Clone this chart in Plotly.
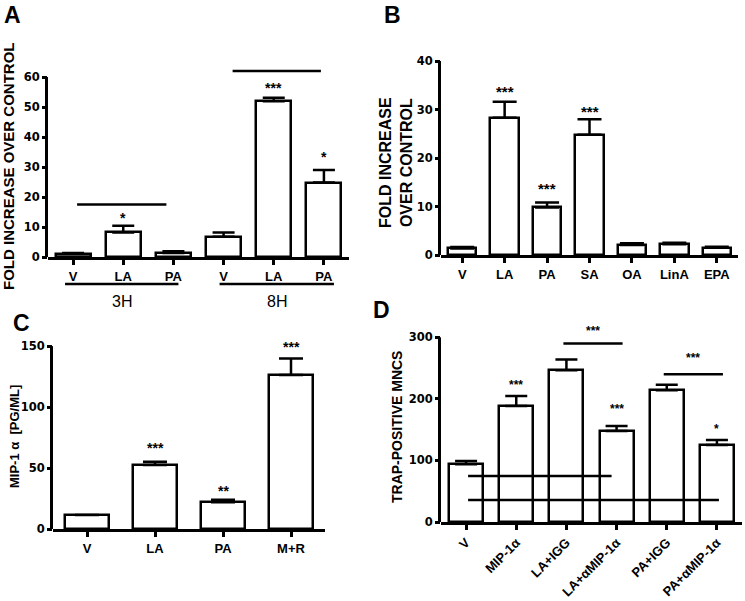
import plotly.graph_objects as go

W, H = 745, 601

# ---------------- data ----------------
# Panel A
a_labels = ["V", "LA", "PA", "V", "LA", "PA"]
a_vals = [1.1, 8.2, 1.3, 6.75, 51.9, 24.8]
a_errs = [0.2, 2.2, 0.6, 1.45, 1.2, 4.2]
a_fill = ["#8c8c8c", "white", "white", "white", "white", "white"]
a_stars = ["", "*", "", "", "***", "*"]
a_star_y = [0, 13.7, 0, 0, 57, 34]
a_ticks = [0, 10, 20, 30, 40, 50, 60]
a_groups = ["3H", "8H"]
a_group_span = [(-0.16, 2.1), (2.92, 5.2)]
a_sig = [(0.08, 1.86, 17.5), (3.18, 4.94, 62)]

# Panel B
b_labels = ["V", "LA", "PA", "SA", "OA", "LinA", "EPA"]
b_vals = [1.35, 28.3, 9.8, 24.8, 2.05, 2.2, 1.5]
b_errs = [0.3, 3.3, 1.0, 3.2, 0.35, 0.35, 0.2]
b_stars = ["", "***", "***", "***", "", "", ""]
b_star_y = [0, 34.1, 14.2, 30.0, 0, 0, 0]
b_ticks = [0, 10, 20, 30, 40]

# Panel C
c_labels = ["V", "LA", "PA", "M+R"]
c_vals = [11.5, 52.5, 21.9, 126.2]
c_errs = [0, 2.7, 2.1, 13.7]
c_stars = ["", "***", "**", "***"]
c_star_y = [0, 68, 32.7, 151]
c_ticks = [0, 50, 100, 150]

# Panel D
d_labels = ["V", "MIP-1α", "LA+IGG", "LA+αMIP-1α", "PA+IGG", "PA+αMIP-1α"]
d_vals = [94, 188.6, 246.5, 148, 214, 125]
d_errs = [5, 16.2, 17.3, 8, 9, 8]
d_stars = ["", "***", "", "***", "", "*"]
d_star_y = [0, 225, 0, 186, 0, 154]
d_ticks = [0, 100, 200, 300]
d_sig = [(1.94, 3.12, 290, "***", 313), (3.94, 5.12, 240, "***", 269)]
d_inner = [(0.04, 2.9, 74.6), (0.04, 5.04, 35.7)]

FONT = "Liberation Sans, Arial, sans-serif"
NUMFONT = "DejaVu Sans, Liberation Sans, sans-serif"


def px_x(p):
    return p / W


def px_y(p):
    return 1 - p / H


fig = go.Figure()
shapes = []
annotations = []


def panel(i, labels, vals, errs, fills, xpx, ypx, yrange, yticks, bw, cap,
          stars, star_y, tickangle=0, star_size=11):
    n = len(labels)
    xs = list(range(n))
    xd = [px_x(xpx[0]), px_x(xpx[1])]
    yd = [px_y(ypx[1]), px_y(ypx[0])]
    fig.add_trace(go.Bar(
        x=xs, y=vals, width=bw,
        marker=dict(color=fills, line=dict(color="black", width=2.5)),
        error_y=dict(type="data", array=errs, arrayminus=[0] * n,
                     symmetric=False, color="black", thickness=2.5, width=cap),
        xaxis="x%d" % i, yaxis="y%d" % i, showlegend=False,
    ))
    sfx = "" if i == 1 else str(i)
    fig.layout["xaxis" + sfx] = dict(
        domain=xd, anchor="y%d" % i, range=[-0.5, n - 0.5],
        tickvals=xs, ticktext=labels, tickangle=tickangle,
        showline=True, linecolor="black", linewidth=3,
        ticks="outside", ticklen=5, tickwidth=2.5, tickcolor="black",
        showgrid=False, zeroline=False, automargin=False,
        tickfont=dict(family=FONT, size=13, color="black", weight="bold"),
    )
    fig.layout["yaxis" + sfx] = dict(
        domain=yd, anchor="x%d" % i, range=yrange,
        tickvals=yticks, showline=False,
        ticks="outside", ticklen=5, tickwidth=2.5, tickcolor="black",
        showgrid=False, zeroline=False, automargin=False,
        tickfont=dict(family=NUMFONT, size=11.5, color="black", weight="bold"),
    )
    shapes.append(dict(type="line", xref="paper", yref="y%d" % i,
                       x0=xd[0] - 1.5 / W, x1=xd[0] - 1.5 / W,
                       y0=yrange[0], y1=yticks[-1],
                       line=dict(color="black", width=3)))
    for k in range(n):
        if stars[k]:
            annotations.append(dict(
                x=xs[k], y=star_y[k], xref="x%d" % i, yref="y%d" % i,
                text=stars[k], showarrow=False, xanchor="center", yanchor="middle",
                yshift=-2,
                font=dict(family=FONT, size=star_size, color="black", weight="bold"),
            ))


# Panel A
panel(1, a_labels, a_vals, a_errs, a_fill, (48, 349), (62, 257), [0, 65],
      a_ticks, 0.7, 11, a_stars, a_star_y, star_size=14)
for (x0, x1, y) in a_sig:
    shapes.append(dict(type="line", xref="x1", yref="y1", x0=x0, x1=x1, y0=y, y1=y,
                       line=dict(color="black", width=2.5)))
for g, (x0, x1) in zip(a_groups, a_group_span):
    shapes.append(dict(type="line", xref="x1", yref="paper", x0=x0, x1=x1,
                       y0=px_y(284), y1=px_y(284), line=dict(color="black", width=2.5)))
    annotations.append(dict(x=(x0 + x1) / 2, y=px_y(301), xref="x1", yref="paper",
                            text=g, showarrow=False, xanchor="center", yanchor="middle",
                            font=dict(family=FONT, size=16, color="black")))

# Panel B
panel(2, b_labels, b_vals, b_errs, ["white"] * len(b_vals), (441, 738), (61, 255),
      [0, 40], b_ticks, 0.67, 12, b_stars, b_star_y, star_size=15)

# Panel C
panel(3, c_labels, c_vals, c_errs, ["white"] * len(c_vals), (53, 325), (340, 529),
      [0, 155], c_ticks, 0.66, 12, c_stars, c_star_y, star_size=14)

# Panel D
panel(4, d_labels, d_vals, d_errs, ["white"] * len(d_vals), (441, 742), (325, 522),
      [0, 320], d_ticks, 0.68, 11, d_stars, d_star_y, tickangle=-45, star_size=12)
for (x0, x1, y, s, sy) in d_sig:
    shapes.append(dict(type="line", xref="x4", yref="y4", x0=x0, x1=x1, y0=y, y1=y,
                       line=dict(color="black", width=2.5)))
    annotations.append(dict(x=(x0 + x1) / 2, y=sy, xref="x4", yref="y4", text=s,
                            showarrow=False, xanchor="center", yanchor="middle", yshift=-2,
                            font=dict(family=FONT, size=12, color="black", weight="bold")))
for (x0, x1, y) in d_inner:
    shapes.append(dict(type="line", xref="x4", yref="y4", x0=x0, x1=x1, y0=y, y1=y,
                       line=dict(color="black", width=2.5)))


# Titles and panel letters
def ann_px(x, y, text, size, angle=0, weight="bold"):
    annotations.append(dict(x=px_x(x), y=px_y(y), xref="paper", yref="paper",
                            text=text, showarrow=False, textangle=angle,
                            xanchor="center", yanchor="middle",
                            font=dict(family=FONT, size=size, color="black", weight=weight)))


ann_px(13, 15, "A", 23)
ann_px(392, 15, "B", 23)
ann_px(21, 323, "C", 23)
ann_px(381, 310, "D", 23)
ann_px(8, 166, "FOLD INCREASE OVER CONTROL", 15, -90)
ann_px(396, 163, "FOLD INCREASE<br>OVER CONTROL", 16, -90)
ann_px(14, 437, "MIP-1 α  [PG/ML]", 13, -90)
ann_px(397, 427, "TRAP-POSITIVE MNCS", 14, -90)

fig.update_layout(
    template="none",
    width=W, height=H, margin=dict(l=0, r=0, t=0, b=0, autoexpand=False),
    paper_bgcolor="white", plot_bgcolor="white",
    shapes=shapes, annotations=annotations, bargap=0,
    font=dict(family=FONT, color="black"),
)

fig.write_html("out.html", config={"displayModeBar": False},
               post_script="document.body.style.margin='0';document.body.style.overflow='hidden';")
